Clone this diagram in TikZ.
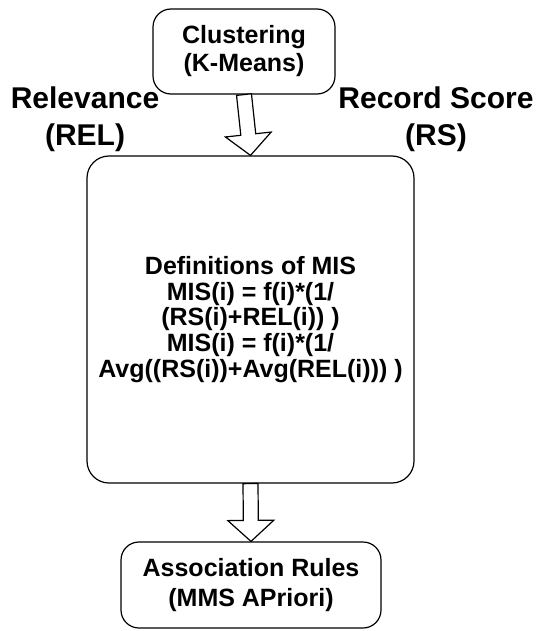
\documentclass[tikz,border=0pt]{standalone}
\usepackage{fontspec}
\setmainfont{Liberation Sans}
\usetikzlibrary{calc}
\tikzset{
  box/.style={draw, line width=1.2pt, rounded corners=18pt, align=center,
    font=\bfseries\fontsize{25}{28}\selectfont, inner sep=0pt},
  label/.style={align=center, font=\bfseries\fontsize{30}{37}\selectfont, inner sep=0pt},
  hollow/.style={draw, line width=1.2pt, fill=white, line join=miter}
}
% block arrow from #1 to #2: shaft half-width 7.5, head half-width 23, head length 21
\newcommand{\blockarrow}[2]{%
  \coordinate (hb) at ($(#2)!21pt!(#1)$);
  \draw[hollow]
    ($(#1)!7.5pt!90:(#2)$) -- ($(hb)!7.5pt!90:(#2)$) -- ($(hb)!23pt!90:(#2)$) --
    (#2) -- ($(hb)!23pt!-90:(#2)$) -- ($(hb)!7.5pt!-90:(#2)$) --
    ($(#1)!7.5pt!-90:(#2)$) -- cycle;}
\begin{document}
\begin{tikzpicture}[x=1pt, y=-1pt]
  \useasboundingbox[fill=white] (0,0) rectangle (535,631);

  \node[box, minimum width=182pt, minimum height=85pt] (clust) at (244,51.5)
    {Clustering\\(K-Means)};
  \node[box, rounded corners=22pt, minimum width=327pt, minimum height=327pt,
        font=\bfseries\fontsize{25}{25.8}\selectfont] (mis) at (250.5,319.5)
    {Definitions of MIS\\MIS(i) = f(i)*(1/\\(RS(i)+REL(i)) )\\MIS(i) = f(i)*(1/\\Avg((RS(i))+Avg(REL(i))) )};
  \node[box, minimum width=260pt, minimum height=86pt, font=\bfseries\fontsize{25}{30}\selectfont]
    (assoc) at (251,585) {Association Rules\\(MMS APriori)};

  \node[label] (rel) at (85,119) {Relevance\\(REL)};
  \node[label] (rs) at (436,119) {Record Score\\(RS)};

  \coordinate (a1) at (clust.south);
  \coordinate (b1) at (mis.north);
  \blockarrow{a1}{b1}
  \coordinate (a2) at (mis.south);
  \coordinate (b2) at (assoc.north);
  \blockarrow{a2}{b2}
\end{tikzpicture}
\end{document}
